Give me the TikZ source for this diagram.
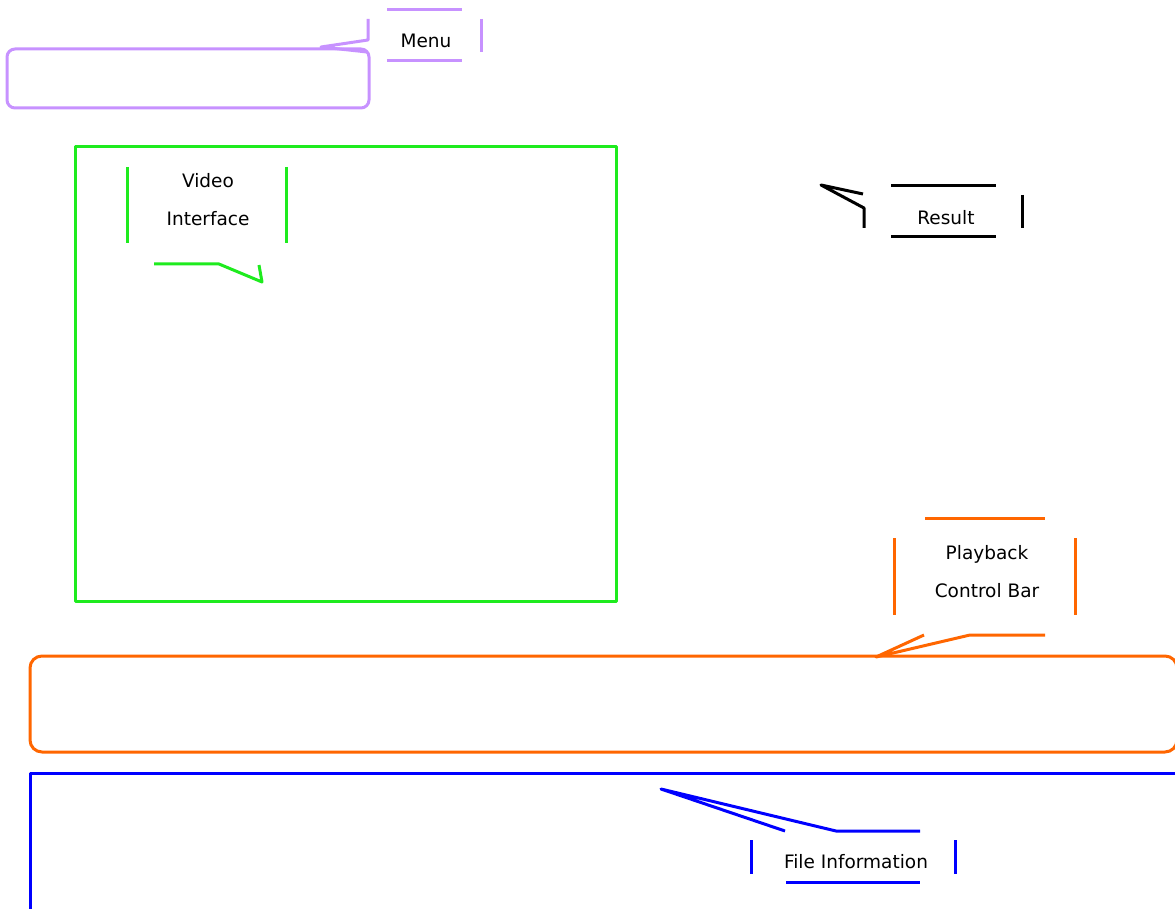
\documentclass[tikz,border=0pt]{standalone}
\usepackage{fontspec}
\setmainfont{DejaVu Sans}
\usetikzlibrary{positioning,calc}
\definecolor{menucol}{RGB}{199,146,255}
\definecolor{videocol}{RGB}{30,235,30}
\definecolor{playcol}{RGB}{255,102,0}
\definecolor{filecol}{RGB}{0,0,255}
\begin{document}
\begin{tikzpicture}[x=1pt,y=-1pt,line width=3pt,line join=round,
  lbl/.style={align=center,inner sep=0pt,font=\fontsize{18.5}{38}\selectfont}]
\useasboundingbox (0,0) rectangle (1175,909);
\draw[menucol,rounded corners=8pt] (7,49) coordinate (M1) rectangle (369,108) coordinate (M2);
\draw[videocol] (75,147) coordinate (V1) rectangle (616,601) coordinate (V2);
\draw[playcol,rounded corners=12pt] (30,656) coordinate (P1) rectangle (1177,752) coordinate (P2);
\draw[filecol] (1180,773) -- (30,773) coordinate (F1) -- (30,915);
\node[lbl] (menu) at (426,41) {Menu};
\node[lbl] (video) at (208,200) {Video\\Interface};
\node[lbl] (result) at (946,218) {Result};
\node[lbl] (play) at (987,572) {Playback\\Control Bar};
\node[lbl] (file) at (856,862) {File Information};
\draw[menucol] (387,10) -- (462,10);
\draw[menucol] (387,61) -- (462,61);
\draw[menucol] (481,19) -- (481,52);
\draw[menucol] (368,19) -- (368,40) -- (321,47) -- (367,52);
\draw[videocol] (127,167) -- (127,243);
\draw[videocol] (286,167) -- (286,243);
\draw[videocol] (154,264) -- (219,264) -- (262,282) -- (259,265);
\draw (891,186) -- (996,186);
\draw (891,237) -- (996,237);
\draw (1022,195) -- (1022,228);
\draw (864,228) -- (864,208) -- (821,185) -- (863,194);
\draw[playcol] (925,518) -- (1045,518);
\draw[playcol] (894,538) -- (894,615);
\draw[playcol] (1075,538) -- (1075,615);
\draw[playcol] (1045,635) -- (970,635) -- (876,657) -- (924,635);
\draw[filecol] (751,840) -- (751,874);
\draw[filecol] (955,840) -- (955,874);
\draw[filecol] (786,882) -- (920,882);
\draw[filecol] (920,831) -- (836,831) -- (661,789) -- (785,831);
\end{tikzpicture}
\end{document}
